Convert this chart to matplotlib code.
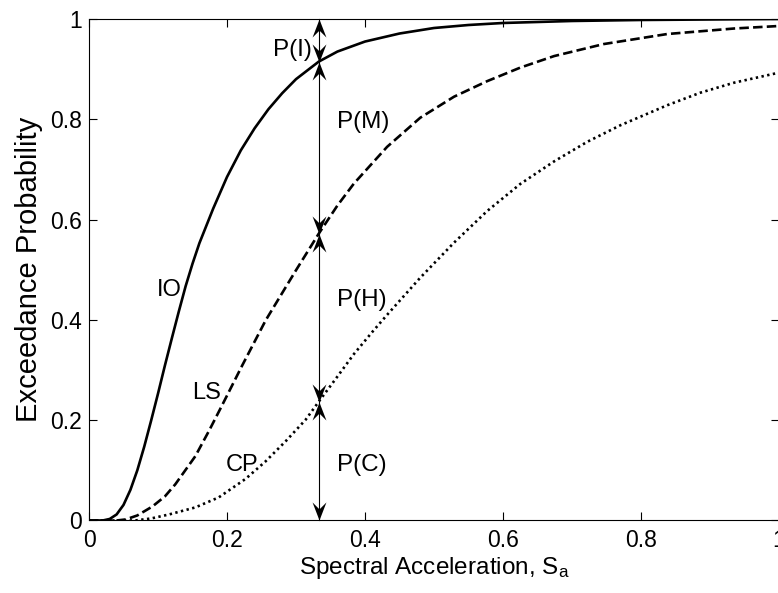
import matplotlib
matplotlib.use('Agg')
import matplotlib.pyplot as plt
from matplotlib.path import Path
import numpy as np

plt.rcParams['font.family'] = ['Liberation Sans', 'DejaVu Sans']
plt.rcParams['mathtext.fontset'] = 'custom'
plt.rcParams['mathtext.rm'] = 'Liberation Sans'
plt.rcParams['mathtext.it'] = 'Liberation Sans'

# fragility curves (Sa, exceedance probability)
io_x = [0, 0.02, 0.03, 0.04, 0.05, 0.06, 0.07, 0.08, 0.09, 0.10, 0.11, 0.12, 0.13,
        0.14, 0.15, 0.16, 0.18, 0.20, 0.22, 0.24, 0.26, 0.28, 0.30, 0.333, 0.36,
        0.40, 0.45, 0.50, 0.55, 0.60, 0.70, 0.80, 0.90, 1.0]
io_y = [0, 0, 0.003, 0.012, 0.031, 0.061, 0.100, 0.147, 0.199, 0.253, 0.309, 0.363, 0.416,
        0.467, 0.512, 0.553, 0.622, 0.685, 0.738, 0.782, 0.820, 0.852, 0.880, 0.915, 0.935,
        0.955, 0.971, 0.982, 0.988, 0.992, 0.996, 0.998, 0.999, 1.0]

ls_x = [0, 0.04, 0.053, 0.07, 0.092, 0.11, 0.125, 0.154, 0.174, 0.193, 0.222, 0.256,
        0.285, 0.30, 0.333, 0.36, 0.384, 0.432, 0.48, 0.529, 0.577, 0.625,
        0.674, 0.746, 0.838, 0.935, 1.0]
ls_y = [0, 0, 0.002, 0.010, 0.028, 0.048, 0.072, 0.128, 0.179, 0.230, 0.309, 0.399,
        0.465, 0.499, 0.572, 0.628, 0.672, 0.745, 0.803, 0.845, 0.876, 0.903,
        0.926, 0.95, 0.97, 0.981, 0.986]

cp_x = [0, 0.067, 0.09, 0.116, 0.154, 0.188, 0.227, 0.256, 0.285, 0.314, 0.333,
        0.36, 0.384, 0.41, 0.432, 0.48, 0.529, 0.577, 0.625, 0.674, 0.722, 0.77,
        0.838, 0.886, 0.935, 1.0]
cp_y = [0, 0, 0.004, 0.012, 0.026, 0.046, 0.083, 0.118, 0.158, 0.201, 0.237,
        0.287, 0.332, 0.375, 0.41, 0.484, 0.554, 0.617, 0.671, 0.716, 0.755, 0.788,
        0.828, 0.853, 0.873, 0.893]

sa_line = 0.333
curve_names = ['IO', 'LS', 'CP']
curve_label_pos = [(0.099, 0.46), (0.149, 0.254), (0.198, 0.11)]
state_names = ['P(C)', 'P(H)', 'P(M)', 'P(I)']
state_label_pos = [(0.36, 0.11), (0.36, 0.44), (0.36, 0.795), (0.267, 0.938)]

fig = plt.figure(figsize=(7.78, 5.93), dpi=100)
ax = fig.add_axes([0.1144, 0.1223, 0.8869, 0.8457])

ax.plot(io_x, io_y, color='k', lw=1.9, ls='-')
ax.plot(ls_x, ls_y, color='k', lw=1.9, ls=(0, (3.6, 1.6)))
ax.plot(cp_x, cp_y, color='k', lw=1.9, ls=(0, (0.9, 1.3)))

# MATLAB style arrow heads (concave back), tip at the origin
head_up = Path([(0, 0), (-0.5, -1.3), (0, -0.8), (0.5, -1.3), (0, 0)],
               [Path.MOVETO, Path.LINETO, Path.LINETO, Path.LINETO, Path.CLOSEPOLY])
head_down = Path([(0, 0), (-0.5, 1.3), (0, 0.8), (0.5, 1.3), (0, 0)],
                 [Path.MOVETO, Path.LINETO, Path.LINETO, Path.LINETO, Path.CLOSEPOLY])

bounds = [0,
          np.interp(sa_line, cp_x, cp_y),
          np.interp(sa_line, ls_x, ls_y),
          np.interp(sa_line, io_x, io_y),
          1]
ax.plot([sa_line, sa_line], [bounds[0], bounds[-1]], color='k', lw=0.8, clip_on=False)
ax.plot([sa_line] * 4, bounds[1:], ls='none', marker=head_up, ms=26,
        color='k', mew=0, clip_on=False)
ax.plot([sa_line] * 4, bounds[:-1], ls='none', marker=head_down, ms=26,
        color='k', mew=0, clip_on=False)

for name, (tx, ty) in zip(curve_names, curve_label_pos):
    ax.text(tx, ty, name, fontsize=17, ha='left', va='center')
for name, (tx, ty) in zip(state_names, state_label_pos):
    ax.text(tx, ty, name, fontsize=17.5, ha='left', va='center')

ax.set_xlim(0, 1)
ax.set_ylim(0, 1)
ticks = [0, 0.2, 0.4, 0.6, 0.8, 1]
tick_labels = ['0', '0.2', '0.4', '0.6', '0.8', '1']
ax.set_xticks(ticks)
ax.set_xticklabels(tick_labels)
ax.set_yticks(ticks)
ax.set_yticklabels(tick_labels)
ax.tick_params(direction='in', length=6, width=0.8, top=True, right=True,
               labelsize=16.5)
ax.tick_params(axis='x', pad=6)
ax.tick_params(axis='y', pad=5)
for sp in ax.spines.values():
    sp.set_linewidth(0.8)

ax.set_xlabel(r'Spectral Acceleration, S$_\mathrm{a}$', fontsize=17.5, labelpad=2)
ax.set_ylabel('Exceedance Probability', fontsize=21, labelpad=5)

fig.savefig('out.png', dpi=100)
